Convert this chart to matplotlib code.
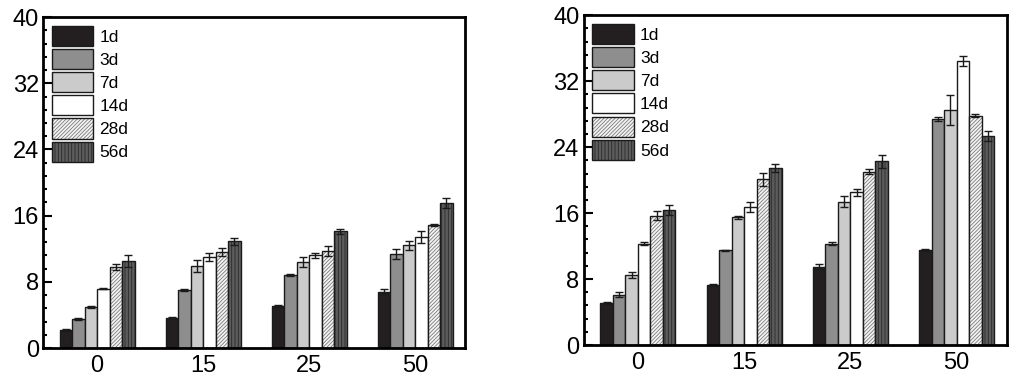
import numpy as np
import matplotlib.pyplot as plt
from matplotlib.ticker import MultipleLocator
from matplotlib.legend_handler import HandlerTuple

plt.rcParams['font.family'] = ['Liberation Sans', 'DejaVu Sans']
plt.rcParams['hatch.linewidth'] = 0.6

groups = ['0', '15', '25', '50']
ages = ['1d', '3d', '7d', '14d', '28d', '56d']

# left panel values / errors (rows = ages, cols = groups)
left_vals = [
    [2.2, 3.6, 5.1, 6.8],
    [3.5, 7.0, 8.8, 11.4],
    [5.0, 9.9, 10.4, 12.4],
    [7.2, 11.0, 11.2, 13.4],
    [9.8, 11.6, 11.7, 14.9],
    [10.5, 12.9, 14.1, 17.5],
]
left_err = [
    [0.1, 0.1, 0.1, 0.3],
    [0.1, 0.1, 0.1, 0.6],
    [0.1, 0.7, 0.6, 0.6],
    [0.1, 0.5, 0.3, 0.7],
    [0.4, 0.5, 0.6, 0.1],
    [0.7, 0.4, 0.3, 0.6],
]

# right panel values / errors
right_vals = [
    [5.1, 7.3, 9.5, 11.5],
    [6.1, 11.5, 12.3, 27.4],
    [8.5, 15.5, 17.4, 28.5],
    [12.3, 16.7, 18.5, 34.5],
    [15.7, 20.1, 21.0, 27.8],
    [16.4, 21.5, 22.3, 25.4],
]
right_err = [
    [0.1, 0.1, 0.3, 0.1],
    [0.3, 0.05, 0.2, 0.2],
    [0.4, 0.2, 0.7, 1.8],
    [0.2, 0.6, 0.4, 0.6],
    [0.5, 0.8, 0.3, 0.2],
    [0.6, 0.5, 0.8, 0.6],
]

colors = ['#231f20', '#8e8e8e', '#cbcbcb', '#ffffff', '#f4f4f4', '#5c5c5c']
hatches = [None, None, None, None, '/////////', '|||||']
hatch_cols = ['#231f20', '#8e8e8e', '#cbcbcb', '#ffffff', '#7a7a7a', '#2a2a2a']

fig = plt.figure(figsize=(10.24, 3.8), dpi=100)
ax1 = fig.add_axes([0.042, 0.084, 0.412, 0.871])
ax2 = fig.add_axes([0.570, 0.092, 0.413, 0.868])

w = 0.118
x = np.arange(len(groups))

for ax, vals, errs in [(ax1, left_vals, left_err), (ax2, right_vals, right_err)]:
    handles = []
    for i, age in enumerate(ages):
        pos = x + (i - 2.5) * w
        # fill + hatch first (hatch takes the edge colour), then black outline
        b1 = ax.bar(pos, vals[i], w, color=colors[i], edgecolor=hatch_cols[i],
                    linewidth=0, hatch=hatches[i])
        b2 = ax.bar(pos, vals[i], w, fill=False, edgecolor='#1a1a1a', linewidth=1.0)
        handles.append((b1, b2))
        ax.errorbar(pos, vals[i], yerr=errs[i], fmt='none', ecolor='#1a1a1a',
                    elinewidth=1.0, capsize=3, capthick=1.0)
    ax.set_xlim(-0.51, 3.47)
    ax.set_ylim(0, 40)
    ax.yaxis.set_major_locator(MultipleLocator(8))
    ax.yaxis.set_minor_locator(MultipleLocator(1.6))
    ax.set_xticks(x)
    ax.set_xticklabels(groups)
    ax.tick_params(axis='y', which='major', direction='in', length=6.5, width=1.5,
                   labelsize=17, pad=3)
    ax.tick_params(axis='y', which='minor', direction='in', length=3, width=1.5)
    ax.tick_params(axis='x', length=0, labelsize=17, pad=5)
    for sp in ax.spines.values():
        sp.set_linewidth(2)
    ax.legend(handles, ages, loc='upper left', frameon=False, fontsize=12.5,
              handler_map={tuple: HandlerTuple(ndivide=1, pad=0)},
              handlelength=2.4, handleheight=1.4, labelspacing=0.18,
              handletextpad=0.35, borderaxespad=0.25, borderpad=0.25)

fig.savefig('out.png', dpi=100)
